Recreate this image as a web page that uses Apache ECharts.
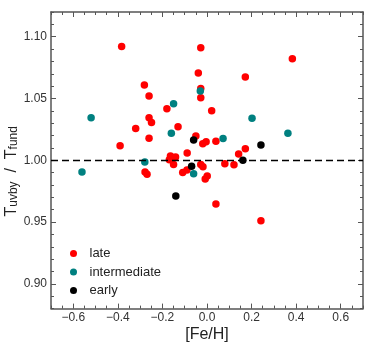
<!DOCTYPE html>
<html>
<head>
<meta charset="utf-8">
<script src="https://cdn.jsdelivr.net/npm/echarts@6/dist/echarts.min.js"></script>
<style>
html,body{margin:0;padding:0;background:#fff;}
#chart{width:368px;height:344px;}
</style>
</head>
<body>
<div id="chart"></div>
<script>
// Data: [Fe/H], T_uvby / T_fund
const lateData = [
  [-0.383, 1.092], [-0.028, 1.091], [-0.039, 1.0706], [-0.281, 1.061],
  [-0.028, 1.058], [-0.028, 1.0506], [-0.260, 1.052], [-0.180, 1.0418],
  [0.021, 1.040], [-0.260, 1.0345], [-0.249, 1.0305], [-0.320, 1.0258],
  [-0.130, 1.0272], [-0.260, 1.0178], [-0.050, 1.0196], [-0.019, 1.0134],
  [-0.004, 1.0150], [0.040, 1.0154], [-0.390, 1.0118], [-0.089, 1.006],
  [-0.164, 1.0035], [-0.141, 1.0027], [-0.169, 1.0005], [-0.150, 0.9966],
  [-0.028, 0.9967], [-0.018, 0.9947], [-0.109, 0.9902], [-0.090, 0.9921],
  [-0.278, 0.9905], [-0.269, 0.9887], [-0.008, 0.9848], [0.001, 0.9872],
  [0.080, 0.9972], [0.121, 0.9965], [0.142, 1.0051], [0.172, 1.0094],
  [0.172, 1.0674], [0.383, 1.0822], [0.040, 0.9646], [0.242, 0.951]
];
const intermediateData = [
  [-0.520, 1.0345], [-0.561, 0.9905], [-0.279, 0.9986], [-0.030, 1.056],
  [-0.150, 1.0458], [-0.160, 1.0218], [0.072, 1.0176], [0.202, 1.034],
  [0.363, 1.0218], [-0.060, 0.9891]
];
const earlyData = [
  [-0.060, 1.0165], [-0.069, 0.9951], [-0.140, 0.9711], [0.242, 1.0124], [0.161, 1.000]
];
const seriesNames = ['late', 'intermediate', 'early'];
const xMajorTicks = [-0.6, -0.4, -0.2, 0.0, 0.2, 0.4, 0.6];
const xMinorTicks = [-0.7, -0.65, -0.55, -0.5, -0.45, -0.35, -0.3, -0.25, -0.15, -0.1, -0.05,
  0.05, 0.1, 0.15, 0.25, 0.3, 0.35, 0.45, 0.5, 0.55, 0.65, 0.7];
const yMajorTicks = [0.90, 0.95, 1.00, 1.05, 1.10];
const yMinorTicks = [0.88, 0.89, 0.91, 0.92, 0.93, 0.94, 0.96, 0.97, 0.98, 0.99,
  1.01, 1.02, 1.03, 1.04, 1.06, 1.07, 1.08, 1.09, 1.11, 1.12];
const refLineValue = 1.00;

const frameColor = '#555555';
const labelColor = '#333333';
const FONT = 'Liberation Sans, Arial, sans-serif';

function xAxisDef(pos, ticks, len, showLine, showLabel, extra) {
  return Object.assign({
    type: 'value', position: pos, min: -0.7, max: 0.7, gridIndex: 0,
    axisLine: { show: showLine, onZero: false, lineStyle: { color: frameColor, width: 1.5 } },
    axisTick: { show: true, inside: true, length: len, customValues: ticks, lineStyle: { color: frameColor, width: 1 } },
    axisLabel: showLabel ? {
      show: true, customValues: xMajorTicks, margin: 3, color: labelColor, fontSize: 12,
      fontFamily: FONT,
      formatter: function (v) { return Number(v).toFixed(1).replace('-', '\u2212'); }
    } : { show: false },
    splitLine: { show: false }
  }, extra || {});
}
function yAxisDef(pos, ticks, len, showLine, showLabel, extra) {
  return Object.assign({
    type: 'value', position: pos, min: 0.88, max: 1.12, gridIndex: 0,
    axisLine: { show: showLine, onZero: false, lineStyle: { color: frameColor, width: 1.5 } },
    axisTick: { show: true, inside: true, length: len, customValues: ticks, lineStyle: { color: frameColor, width: 1 } },
    axisLabel: showLabel ? {
      show: true, customValues: yMajorTicks, margin: 4, color: labelColor, fontSize: 12,
      fontFamily: FONT,
      formatter: function (v) { return Number(v).toFixed(2); }
    } : { show: false },
    splitLine: { show: false }
  }, extra || {});
}

const chart = echarts.init(document.getElementById('chart'), null, { renderer: 'canvas' });
const colors = ['#ff0000', '#008080', '#000000'];
const datasets = [lateData, intermediateData, earlyData];

const option = {
  animation: false,
  backgroundColor: '#ffffff',
  grid: { left: 51, top: 12, width: 312, height: 296.6, containLabel: false, outerBoundsMode: 'none' },
  legend: {
    orient: 'vertical', left: 65, top: 241.5, icon: 'circle',
    itemWidth: 22, itemHeight: 7, itemGap: 4.5,
    textStyle: { fontSize: 13, color: '#222', lineHeight: 14, fontFamily: FONT, padding: [0, 0, 0, 0] },
    data: seriesNames
  },
  xAxis: [
    xAxisDef('bottom', xMajorTicks, 5, true, true, {
      name: '[Fe/H]', nameLocation: 'middle', nameGap: 18, nameMoveOverlap: false,
      nameTextStyle: { fontSize: 16, color: '#222', fontFamily: FONT }
    }),
    xAxisDef('bottom', xMinorTicks, 3, false, false),
    xAxisDef('top', xMajorTicks, 5, true, false),
    xAxisDef('top', xMinorTicks, 3, false, false)
  ],
  yAxis: [
    yAxisDef('left', yMajorTicks, 5, true, true, {
      name: '{m|T}{s|uvby}{m|  /  T}{s|fund}', nameLocation: 'middle', nameGap: 31, nameRotate: 90,
      nameMoveOverlap: false,
      nameTextStyle: {
        color: '#222', fontFamily: FONT, padding: [0, 22, 0, 0],
        rich: {
          m: { fontSize: 16, color: '#222', fontFamily: FONT },
          s: { fontSize: 12, color: '#222', verticalAlign: 'bottom', fontFamily: FONT }
        }
      }
    }),
    yAxisDef('left', yMinorTicks, 3, false, false),
    yAxisDef('right', yMajorTicks, 5, true, false),
    yAxisDef('right', yMinorTicks, 3, false, false)
  ],
  series: seriesNames.map(function (name, i) {
    const s = {
      name: name, type: 'scatter', xAxisIndex: 0, yAxisIndex: 0,
      data: datasets[i], symbol: 'circle', symbolSize: 7.5,
      itemStyle: { color: colors[i], opacity: 1 },
      emphasis: { disabled: true }
    };
    if (i === 0) {
      s.markLine = {
        silent: true, symbol: 'none', label: { show: false },
        lineStyle: { color: '#000', type: [7, 4], width: 1.3 },
        data: [{ yAxis: refLineValue }]
      };
    }
    return s;
  })
};
chart.setOption(option);
</script>
</body>
</html>
